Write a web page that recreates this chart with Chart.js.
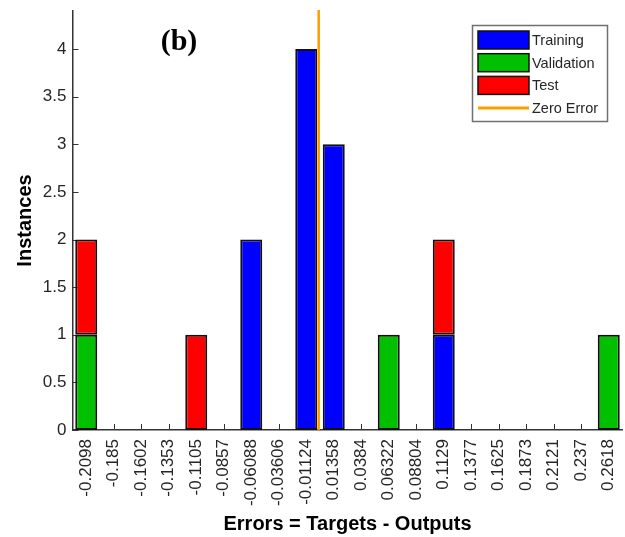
<!DOCTYPE html>
<html>
<head>
<meta charset="utf-8">
<script src="https://cdn.jsdelivr.net/npm/chart.js@4.4.1/dist/chart.umd.min.js"></script>
<style>
  html, body { margin: 0; padding: 0; background: #fff; }
  #wrap { width: 625px; height: 537px; }
</style>
</head>
<body>
<div id="wrap"><canvas id="myChart"></canvas></div>
<script>
var binLabels = ['-0.2098', '-0.185', '-0.1602', '-0.1353', '-0.1105', '-0.0857', '-0.06088', '-0.03606', '-0.01124',
    '0.01358', '0.0384', '0.06322', '0.08804', '0.1129', '0.1377', '0.1625', '0.1873', '0.2121', '0.237', '0.2618'];
var training   = [0, 0, 0, 0, 0, 0, 2, 0, 4, 3, 0, 0, 0, 1, 0, 0, 0, 0, 0, 0];
var validation = [1, 0, 0, 0, 0, 0, 0, 0, 0, 0, 0, 1, 0, 0, 0, 0, 0, 0, 0, 1];
var test       = [1, 0, 0, 0, 1, 0, 0, 0, 0, 0, 0, 0, 0, 1, 0, 0, 0, 0, 0, 0];
var yTicks = [0, 0.5, 1, 1.5, 2, 2.5, 3, 3.5, 4];
var zeroError = 0;

var axisColor = '#333333';
var textColor = '#262626';
var orange = '#FF9C00';

var ctx = document.getElementById('myChart');

// MATLAB style tick marks pointing into the plot
var inwardTicks = {
    id: 'inwardTicks',
    beforeDatasetsDraw: function (chart) {
        var c = chart.ctx, area = chart.chartArea;
        var xs = chart.scales.x, ys = chart.scales.y;
        c.save();
        c.strokeStyle = axisColor;
        c.lineWidth = 1;
        c.beginPath();
        for (var i = 0; i < binLabels.length; i++) {
            var x = Math.round(xs.getPixelForTick(i)) + 0.5;
            c.moveTo(x, area.bottom);
            c.lineTo(x, area.bottom - 6);
        }
        yTicks.forEach(function (v) {
            var y = Math.round(ys.getPixelForValue(v)) + 0.5;
            c.moveTo(area.left, y);
            c.lineTo(area.left + 6, y);
        });
        c.stroke();
        c.restore();
    }
};

var zeroLine = {
    id: 'zeroLine',
    afterDatasetsDraw: function (chart) {
        var xs = chart.scales.x, area = chart.chartArea;
        var vals = binLabels.map(parseFloat);
        var i = 0;
        while (i < vals.length - 2 && vals[i + 1] < zeroError) i++;
        var f = (zeroError - vals[i]) / (vals[i + 1] - vals[i]);
        var x = xs.getPixelForValue(i) + f * (xs.getPixelForValue(i + 1) - xs.getPixelForValue(i));
        var c = chart.ctx;
        c.save();
        c.strokeStyle = orange;
        c.lineWidth = 2.5;
        c.beginPath();
        c.moveTo(x, area.top - 1);
        c.lineTo(x, area.bottom);
        c.stroke();
        c.restore();
    }
};

var legendBox = {
    id: 'legendBox',
    afterDraw: function (chart) {
        var c = chart.ctx;
        var bx = 472.5, by = 25.5, bw = 135, bh = 96;
        c.save();
        c.fillStyle = '#fff';
        c.fillRect(bx, by, bw, bh);
        c.strokeStyle = '#707070';
        c.lineWidth = 1.5;
        c.strokeRect(bx, by, bw, bh);
        c.font = '14.5px "Liberation Sans", Arial, sans-serif';
        c.textBaseline = 'middle';
        c.fillStyle = textColor;
        chart.data.datasets.forEach(function (ds, k) {
            var cy = 40 + k * 22.7;
            c.fillStyle = ds.backgroundColor;
            c.fillRect(478, cy - 9, 51, 18);
            c.strokeStyle = '#111';
            c.lineWidth = 1.5;
            c.strokeRect(478, cy - 9, 51, 18);
            c.fillStyle = textColor;
            c.fillText(ds.label, 532, cy + 1);
        });
        var ly = 40 + 3 * 22.7;
        c.strokeStyle = orange;
        c.lineWidth = 3;
        c.beginPath();
        c.moveTo(478, ly);
        c.lineTo(529, ly);
        c.stroke();
        c.fillStyle = textColor;
        c.fillText('Zero Error', 532, ly + 1);
        c.restore();
    }
};

var panelLabel = {
    id: 'panelLabel',
    afterDraw: function (chart) {
        var c = chart.ctx;
        c.save();
        c.font = 'bold 30px "Liberation Serif", "Times New Roman", serif';
        c.fillStyle = '#000';
        c.textAlign = 'center';
        c.textBaseline = 'middle';
        c.fillText('(b)', 179, 42);
        c.restore();
    }
};

var myChart = new Chart(ctx, {
    type: 'bar',
    data: {
        labels: binLabels,
        datasets: [{
            label: 'Training',
            data: training,
            backgroundColor: '#0000FF'
        }, {
            label: 'Validation',
            data: validation,
            backgroundColor: '#00C000'
        }, {
            label: 'Test',
            data: test,
            backgroundColor: '#FF0000'
        }]
    },
    options: {
        responsive: true,
        maintainAspectRatio: false,
        animation: false,
        datasets: {
            bar: {
                barPercentage: 0.8,
                categoryPercentage: 1,
                borderColor: '#111',
                borderWidth: 2,
                borderSkipped: false
            }
        },
        layout: { padding: { top: 11, right: 2.5, left: 0, bottom: 0 } },
        plugins: {
            legend: { display: false },
            tooltip: { enabled: false }
        },
        scales: {
            x: {
                stacked: true,
                grid: { display: false, drawTicks: false },
                border: { display: true, color: axisColor, width: 1.5 },
                ticks: {
                    color: textColor,
                    font: { family: '"Liberation Sans", Arial, sans-serif', size: 17 },
                    minRotation: 90,
                    maxRotation: 90,
                    autoSkip: false,
                    padding: 9
                },
                title: {
                    display: true,
                    text: 'Errors = Targets - Outputs',
                    color: '#000',
                    font: { family: '"Liberation Sans", Arial, sans-serif', size: 20, weight: 'bold', lineHeight: 1.2 },
                    padding: { top: 0, bottom: 1 }
                },
                afterFit: function (scale) {
                    scale.height = 107;
                    scale.paddingLeft = 0;
                    scale.paddingRight = 0;
                }
            },
            y: {
                stacked: true,
                min: 0,
                max: 4.4,
                grid: { display: false, drawTicks: false },
                border: { display: true, color: axisColor, width: 1.5 },
                ticks: {
                    color: textColor,
                    font: { family: '"Liberation Sans", Arial, sans-serif', size: 17 },
                    padding: 6,
                    callback: function (v) { return v; }
                },
                afterBuildTicks: function (scale) {
                    scale.ticks = yTicks.map(function (v) { return { value: v }; });
                },
                title: {
                    display: true,
                    text: 'Instances',
                    color: '#000',
                    font: { family: '"Liberation Sans", Arial, sans-serif', size: 20, weight: 'bold', lineHeight: 1.2 },
                    padding: { top: 13, bottom: 0 }
                },
                afterFit: function (scale) {
                    scale.width = 72.5;
                    scale.paddingTop = 0;
                    scale.paddingBottom = 0;
                }
            }
        }
    },
    plugins: [inwardTicks, zeroLine, legendBox, panelLabel]
});
</script>
</body>
</html>
